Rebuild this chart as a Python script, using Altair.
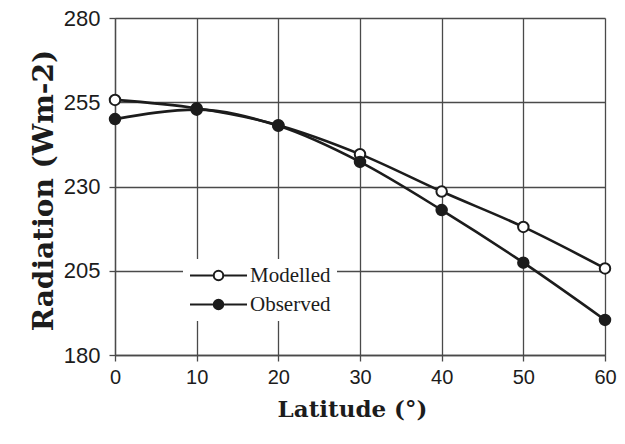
import altair as alt
import pandas as pd

# Annual mean radiation by latitude
latitude = [0, 10, 20, 30, 40, 50, 60]
modelled = [255.7, 253.2, 248.2, 239.6, 228.5, 218.0, 205.7]
observed = [250.0, 252.8, 248.0, 237.3, 223.0, 207.4, 190.4]
series_names = ["Modelled", "Observed"]
x_ticks = [0, 10, 20, 30, 40, 50, 60]
y_ticks = [180, 205, 230, 255, 280]

df = pd.DataFrame(
    {
        "lat": latitude * 2,
        "rad": modelled + observed,
        "series": [series_names[0]] * len(latitude) + [series_names[1]] * len(latitude),
    }
)

INK = "#1c1c1c"
GRID = "#4a4a4a"
# line-with-marker glyph for the legend
LEG_SYMBOL = "M-1,0L1.5,0M2.5,0L5,0M1.5,0A0.5,0.5,0,1,0,2.5,0A0.5,0.5,0,1,0,1.5,0Z"

common_axis = dict(
    grid=True,
    labelFont="Liberation Sans",
    labelColor=INK,
    tickSize=6,
    tickColor=GRID,
    tickWidth=1.3,
    domainColor=GRID,
    domainWidth=1.3,
    gridColor=GRID,
    gridWidth=1.3,
    titleFont="DejaVu Serif",
    titleFontWeight="bold",
    titleColor=INK,
)

x = alt.X(
    "lat:Q",
    scale=alt.Scale(domain=[0, 60], nice=False),
    axis=alt.Axis(
        values=x_ticks,
        title="Latitude (°)",
        labelFontSize=20,
        labelPadding=6,
        labelFlush=False,
        titleFontSize=23,
        titlePadding=11,
        titleX=237,
        **common_axis,
    ),
)
y = alt.Y(
    "rad:Q",
    scale=alt.Scale(domain=[180, 280], nice=False),
    axis=alt.Axis(
        values=y_ticks,
        title="Radiation (Wm-2)",
        labelFontSize=22,
        labelPadding=9,
        labelFlush=False,
        titleFontSize=28,
        titlePadding=5,
        titleY=172,
        **common_axis,
    ),
)

lines = (
    alt.Chart(df)
    .mark_line(interpolate="monotone", color=INK, strokeWidth=2.6)
    .encode(x=x, y=y, detail="series:N")
)

dots = (
    alt.Chart(df)
    .mark_circle(size=110, stroke=INK, strokeWidth=2, opacity=1)
    .encode(
        x=x,
        y=y,
        fill=alt.Fill(
            "series:N",
            scale=alt.Scale(domain=series_names, range=["white", INK]),
            legend=alt.Legend(
                title=None,
                orient="none",
                legendX=68,
                legendY=241,
                padding=6,
                fillColor="white",
                labelFont="Liberation Serif",
                labelFontSize=21,
                labelColor=INK,
                labelOffset=40,
                rowPadding=7,
                symbolType=LEG_SYMBOL,
                symbolSize=361,
                symbolStrokeColor=INK,
                symbolStrokeWidth=2,
                symbolOpacity=1,
            ),
        ),
    )
)

chart = (
    alt.layer(lines, dots)
    .properties(
        width=490,
        height=337,
        autosize=alt.AutoSizeParams(type="none"),
        padding={"left": 115, "top": 18, "right": 20, "bottom": 89},
    )
    .configure_view(stroke=None)
    .configure(background="white")
)

chart.save("out.html", embed_options={"renderer": "svg", "actions": False})
